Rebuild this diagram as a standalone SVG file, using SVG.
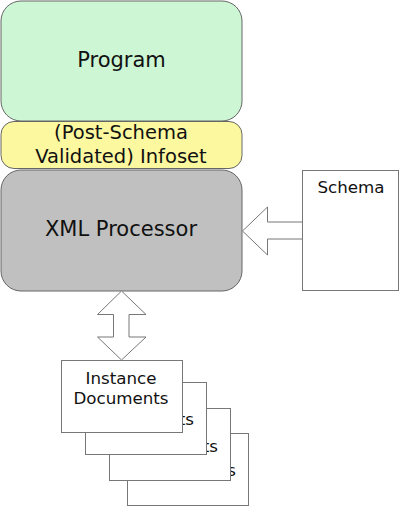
<svg xmlns="http://www.w3.org/2000/svg" width="400" height="506" viewBox="0 0 400 506">
<style>
  text { font-family: "DejaVu Sans", Verdana, sans-serif; fill: #111; text-anchor: middle; }
  .box { stroke: #666; stroke-width: 1; }
  .doc { fill: #fff; stroke: #777; stroke-width: 1; }
  .arrow { fill: #fff; stroke: #777; stroke-width: 1; stroke-linejoin: miter; }
  .big { font-size: 21px; }
  .mid { font-size: 19.5px; }
  .small { font-size: 16.7px; }
  .frag { text-anchor: end; }
</style>
<rect x="0" y="0" width="400" height="506" fill="#fff"/>
<g id="program">
  <rect class="box" x="1" y="1" width="241" height="120" rx="20" ry="20" fill="#ccf6d4"/>
  <text class="big" x="121.5" y="67">Program</text>
</g>
<g id="infoset">
  <rect class="box" x="1" y="121.5" width="241" height="47" rx="13" ry="13" fill="#fbf8a0"/>
  <text class="mid" x="121" y="139">(Post-Schema</text>
  <text class="mid" x="121" y="163">Validated) Infoset</text>
</g>
<g id="xml-processor">
  <rect class="box" x="1" y="170" width="241" height="121" rx="20" ry="20" fill="#c0c0c0"/>
  <text class="big" x="121" y="236">XML Processor</text>
</g>
<g id="schema">
  <rect class="doc" x="302.5" y="170.5" width="96" height="120"/>
  <text class="small" x="351" y="193">Schema</text>
</g>
<g id="documents">
  <g id="doc4">
    <rect class="doc" x="127.5" y="433.5" width="121" height="72"/>
    <text class="small frag" x="236" y="476">s</text>
  </g>
  <g id="doc3">
    <rect class="doc" x="109.5" y="408.5" width="121" height="72"/>
    <text class="small frag" x="218" y="452">ts</text>
  </g>
  <g id="doc2">
    <rect class="doc" x="85.5" y="382.5" width="121" height="72"/>
    <text class="small frag" x="194" y="425">ts</text>
  </g>
  <g id="doc1">
    <rect class="doc" x="61.5" y="360.5" width="121" height="72"/>
    <text class="small" x="121" y="384">Instance</text>
    <text class="small" x="121" y="404">Documents</text>
  </g>
</g>
<g id="connectors">
  <polygon class="arrow" points="242.5,231 267.5,207 267.5,222 302.5,222 302.5,239 267.5,239 267.5,255"/>
  <polygon class="arrow" points="121.5,291 146,314.5 129,314.5 129,337 146,337 121.5,360 97.5,337 113.5,337 113.5,314.5 97.5,314.5"/>
</g>
</svg>
